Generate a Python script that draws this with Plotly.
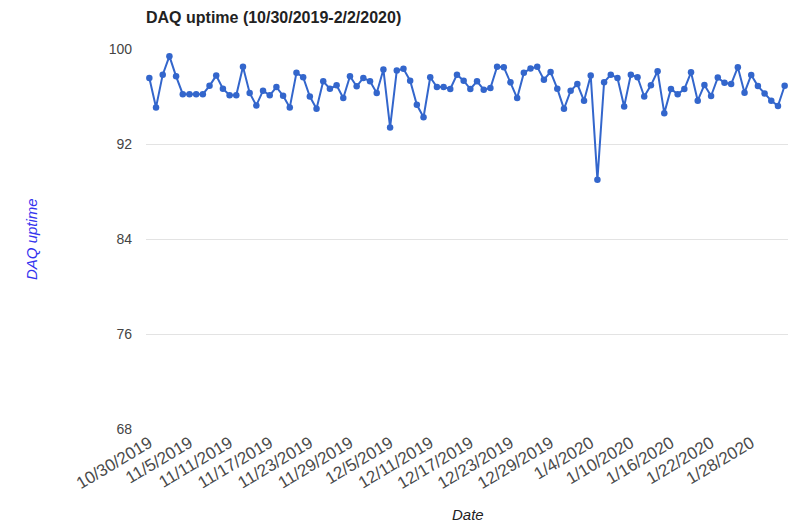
import pandas as pd
import plotly.graph_objects as go

# daily dates 10/30/2019 .. 2/2/2020
dates = [f"{d.month}/{d.day}/{d.year}" for d in pd.date_range("2019-10-30", "2020-02-02")]

uptime = [
    97.56, 95.08, 97.84, 99.40, 97.70, 96.20, 96.20, 96.20, 96.20, 96.90,
    97.76, 96.66, 96.10, 96.10, 98.50, 96.30, 95.25, 96.49, 96.10, 96.80,
    96.06, 95.08, 97.99, 97.62, 96.00, 94.96, 97.28, 96.66, 96.94, 95.87,
    97.70, 96.86, 97.56, 97.28, 96.30, 98.27, 93.40, 98.18, 98.33, 97.33,
    95.30, 94.25, 97.62, 96.80, 96.80, 96.63, 97.84, 97.33, 96.63, 97.28,
    96.57, 96.71, 98.50, 98.47, 97.20, 95.87, 97.99, 98.36, 98.50, 97.42,
    98.07, 96.66, 94.96, 96.49, 97.05, 95.64, 97.76, 88.98, 97.20, 97.84,
    97.56, 95.16, 97.84, 97.62, 96.00, 96.94, 98.13, 94.60, 96.63, 96.20,
    96.63, 98.04, 95.65, 96.97, 96.04, 97.59, 97.16, 97.05, 98.47, 96.32,
    97.82, 96.88, 96.26, 95.64, 95.21, 96.91,
]

tick_labels = dates[::6]
y_ticks = [68, 76, 84, 92, 100]

FONT = "Arial, Liberation Sans, sans-serif"

W, H = 790, 526
L, R, T, B = 146, 2, 49, 97
pw, ph = W - L - R, H - T - B

fig = go.Figure()
fig.add_trace(go.Scatter(
    x=dates,
    y=uptime,
    mode="lines+markers",
    line=dict(color="#3366cc", width=2),
    marker=dict(color="#3366cc", size=6.5),
    showlegend=False,
))

fig.update_layout(
    width=W, height=H,
    margin=dict(l=L, r=R, t=T, b=B),
    paper_bgcolor="white",
    plot_bgcolor="white",
    font=dict(family=FONT, size=14, color="#444444"),
    title=dict(
        text="<b>DAQ uptime (10/30/2019-2/2/2020)</b>",
        x=L / W, xanchor="left", y=1 - 17 / H, yanchor="middle",
        font=dict(family=FONT, size=16, color="#222222"),
    ),
    xaxis=dict(
        type="category",
        range=[-0.5, len(dates) - 0.5],
        tickmode="array",
        tickvals=tick_labels,
        ticktext=tick_labels,
        tickangle=-31,
        showgrid=False,
        showline=False,
        zeroline=False,
        ticks="",
        tickfont=dict(size=17, color="#4a4a4a"),
    ),
    yaxis=dict(
        range=[68, 100],
        tickvals=y_ticks,
        showgrid=True,
        gridcolor="#e3e3e3",
        gridwidth=1,
        zeroline=False,
        showline=False,
        ticks="",
        ticklabelstandoff=13,
        tickfont=dict(size=14, color="#444444"),
    ),
)

# axis titles placed like the original (italic)
fig.add_annotation(
    text="<i>DAQ uptime</i>", textangle=-90,
    xref="paper", yref="paper", x=(31 - L) / pw, y=0.5,
    xanchor="center", yanchor="middle", showarrow=False,
    font=dict(family=FONT, size=15, color="#3333ee"),
)
fig.add_annotation(
    text="<i>Date</i>",
    xref="paper", yref="paper", x=(468 - L) / pw, y=-(514 - (H - B)) / ph,
    xanchor="center", yanchor="middle", showarrow=False,
    font=dict(family=FONT, size=15, color="#222222"),
)

# drop the default 8px body margin so the figure fills the window
fig.write_html(
    "out.html",
    config={"displayModeBar": False},
    post_script="document.body.style.margin='0';document.body.style.overflow='hidden';",
)
